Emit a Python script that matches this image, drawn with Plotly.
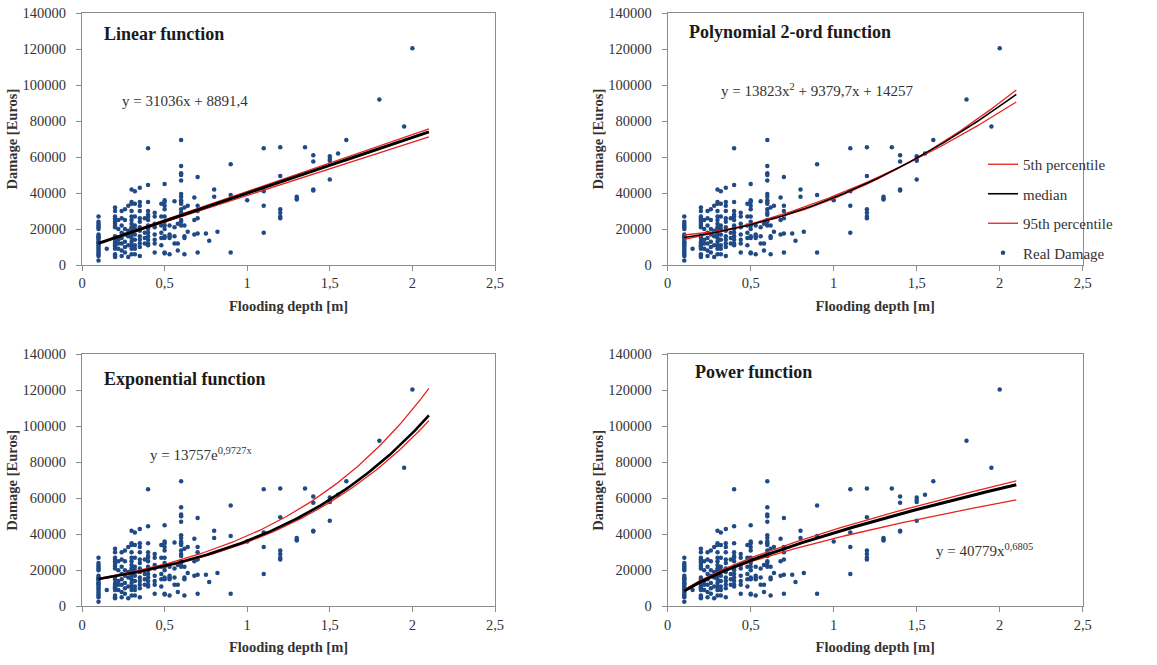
import plotly.graph_objects as go
import numpy as np

# ---------------- data ----------------
depth_levels = [0.10, 0.15, 0.20, 0.22, 0.24, 0.26, 0.28, 0.30, 0.32, 0.35, 0.38, 0.40,
                0.44, 0.48, 0.50, 0.53, 0.56, 0.58, 0.60, 0.62, 0.64, 0.68, 0.70, 0.75,
                0.77, 0.80, 0.82, 0.90, 1.00, 1.10, 1.20, 1.30, 1.35, 1.40, 1.50, 1.55,
                1.60, 1.80, 1.95, 2.00]
damage_groups = [
    [27000, 24000, 23000, 22000, 21000, 20000, 17000, 16000, 15500, 15000, 14000, 13000,
     12500, 12000, 11000, 10000, 9000, 8000, 7000, 6000, 5000, 2500],
    [9000],
    [32000, 30000, 27000, 26000, 25000, 24000, 23000, 22000, 21000, 16000, 15000, 13000,
     12000, 11000, 10500, 10000, 9000, 6000, 5000, 4500],
    [25000, 20000, 14000, 12000, 9000],
    [30000, 26000, 22000, 18000, 15000, 12000, 8000, 5000],
    [31000, 25000, 20000, 17000, 13000, 10000, 7000],
    [33000, 19000, 16000, 11000, 4500],
    [42000, 35000, 34000, 30000, 27000, 25000, 23000, 21000, 20000, 18000, 17000, 15000,
     13000, 11000, 9000, 6000],
    [41000, 34000, 27000, 22000, 20000, 17000, 14000, 11000, 9000, 6000],
    [43000, 35000, 33000, 30000, 26000, 24000, 21000, 19000, 16000, 14000, 12000, 10000, 5000],
    [26000, 18000, 15000, 12000],
    [65000, 44500, 35000, 30000, 28000, 27000, 25000, 22000, 21000, 20000, 18000, 16000,
     14000, 12000, 11000],
    [29000, 27000, 23000, 21000, 17000, 14000, 12000, 7000],
    [34000, 27000, 22000, 18000, 15000, 11000],
    [45000, 36000, 35000, 33000, 31000, 27000, 24000, 22000, 20000, 16000, 15000, 7000, 6500],
    [22000, 17000, 16000, 15000, 6000],
    [35500, 21000, 16000, 12000],
    [23000, 12000, 8000],
    [69500, 55000, 51000, 50000, 47000, 39500, 38000, 36000, 35000, 34000, 31000, 29000,
     28000, 25000, 24000, 22000],
    [32000, 22000, 16000, 15000, 6000],
    [33000, 18500],
    [37500, 25000, 17000],
    [49000, 33000, 30000, 26000, 17500, 7000],
    [17500],
    [13500],
    [42000, 38000],
    [18500],
    [56000, 39000, 7000],
    [36000],
    [65000, 41000, 33000, 18000],
    [65500, 49500, 31000, 29000, 27000, 26000],
    [38000, 37000, 36500],
    [65500],
    [61000, 57500, 42000, 41500],
    [60500, 59000, 58000, 47500],
    [62000],
    [69500],
    [92000],
    [77000],
    [120500],
]

# fitted curve coefficients (median from the equations; percentiles)
linear_median = (31036, 8891.4)
linear_p5 = (29600, 9100)
linear_p95 = (31600, 9300)

poly_median = (13823, 9379.7, 14257)
poly_p5 = (10452, 15205, 12675)
poly_p95 = (16256, 4562, 16081)

expo_median = (13757, 0.9727)
expo_p5 = (13526, 0.9675)
expo_p95 = (13985, 1.028)

power_median = (40779, 0.6805)
power_p5 = (37646, 0.6072)
power_p95 = (42522, 0.6648)

x_tick_vals = [0, 0.5, 1, 1.5, 2, 2.5]
x_tick_labels = ["0", "0,5", "1", "1,5", "2", "2,5"]
y_tick_vals = [0, 20000, 40000, 60000, 80000, 100000, 120000, 140000]

panel_titles = ["Linear function", "Polynomial 2-ord function",
                "Exponential function", "Power function"]
equations = ["y = 31036x + 8891,4",
             "y = 13823x<sup>2</sup> + 9379,7x + 14257",
             "y = 13757e<sup>0,9727x</sup>",
             "y = 40779x<sup>0,6805</sup>"]

# ---------------- build ----------------
depth = []
damage = []
for d, grp in zip(depth_levels, damage_groups):
    depth += [d] * len(grp)
    damage += grp

xc = np.linspace(0.1, 2.1, 120)

def lin(c): return c[0] * xc + c[1]
def poly(c): return c[0] * xc ** 2 + c[1] * xc + c[2]
def expo(c): return c[0] * np.exp(c[1] * xc)
def powf(c): return c[0] * xc ** c[1]

curves = [
    (lin(linear_p5), lin(linear_median), lin(linear_p95), 3),
    (poly(poly_p5), poly(poly_median), poly(poly_p95), 1.6),
    (expo(expo_p5), expo(expo_median), expo(expo_p95), 2.6),
    (powf(power_p5), powf(power_median), powf(power_p95), 3),
]

W, H = 1157, 665
xdom = [[82 / W, 495 / W], [667.7 / W, 1082.7 / W]]
ydom_top = [1 - 265 / H, 1 - 13.3 / H]
ydom_bot = [1 - 606.3 / H, 1 - 354.3 / H]
domains = [(xdom[0], ydom_top), (xdom[1], ydom_top), (xdom[0], ydom_bot), (xdom[1], ydom_bot)]

title_pos = [(0.12, 128300), (0.116, 129400), (0.12, 126300), (0.152, 130200)]
eq_pos = [(0.23, 91100), (0.31, 97600), (0.40, 84600), (1.604, 31300)]

RED = "#E8221E"
BLUE = "#1F4A86"
AXC = "#8C8C8C"
SERIF = "Liberation Serif"

fig = go.Figure()
layout = dict()
annotations = []
for i in range(4):
    xa = "x" if i == 0 else f"x{i+1}"
    ya = "y" if i == 0 else f"y{i+1}"
    leg = (i == 1)
    p5, med, p95, mw = curves[i]
    fig.add_trace(go.Scatter(x=depth, y=damage, mode="markers", xaxis=xa, yaxis=ya,
                             marker=dict(color=BLUE, size=4.5), name="Real Damage",
                             showlegend=leg, legendrank=4, legendgroup="d"))
    fig.add_trace(go.Scatter(x=xc, y=p5, mode="lines", xaxis=xa, yaxis=ya,
                             line=dict(color=RED, width=1.3), name="5th percentile",
                             showlegend=leg, legendrank=1, legendgroup="a"))
    fig.add_trace(go.Scatter(x=xc, y=p95, mode="lines", xaxis=xa, yaxis=ya,
                             line=dict(color=RED, width=1.3), name="95th percentile",
                             showlegend=leg, legendrank=3, legendgroup="c"))
    fig.add_trace(go.Scatter(x=xc, y=med, mode="lines", xaxis=xa, yaxis=ya,
                             line=dict(color="black", width=mw), name="median",
                             showlegend=leg, legendrank=2, legendgroup="b"))
    axn = "" if i == 0 else str(i + 1)
    layout["xaxis" + axn] = dict(
        domain=domains[i][0], anchor=ya, range=[0, 2.5], tickvals=x_tick_vals,
        ticktext=x_tick_labels, showgrid=False, zeroline=False, showline=True,
        linecolor=AXC, linewidth=1, mirror=True, ticks="outside", ticklen=5,
        tickcolor=AXC, tickfont=dict(family=SERIF, size=14.5, color="#333333"),
        automargin=False, ticklabeloverflow="allow",
        title=dict(text="<b>Flooding depth [m]</b>", standoff=10,
                   font=dict(family=SERIF, size=14.5, color="#333333")))
    layout["yaxis" + axn] = dict(
        domain=domains[i][1], anchor=xa, range=[0, 140000], tickvals=y_tick_vals,
        tickformat="d", showgrid=False, zeroline=False, showline=True,
        linecolor=AXC, linewidth=1, mirror=True, ticks="outside", ticklen=5,
        tickcolor=AXC, tickfont=dict(family=SERIF, size=14.5, color="#333333"),
        ticklabelstandoff=7, automargin=False, ticklabeloverflow="allow",
        title=dict(text="<b>Damage [Euros]</b>", standoff=1,
                   font=dict(family=SERIF, size=14.5, color="#333333")))
    annotations.append(dict(x=title_pos[i][0], y=title_pos[i][1], xref=xa, yref=ya,
                            text="<b>" + panel_titles[i] + "</b>", showarrow=False,
                            xanchor="left", yanchor="middle",
                            font=dict(family=SERIF, size=18, color="#1a1a1a")))
    annotations.append(dict(x=eq_pos[i][0], y=eq_pos[i][1], xref=xa, yref=ya,
                            text=equations[i], showarrow=False,
                            xanchor="left", yanchor="middle",
                            font=dict(family=SERIF, size=15, color="#333333")))

fig.update_layout(**layout)
fig.update_layout(
    width=W, height=H, margin=dict(l=0, r=0, t=0, b=0),
    plot_bgcolor="white", paper_bgcolor="white",
    annotations=annotations,
    legend=dict(x=983 / W, y=1 - 148 / H, xanchor="left", yanchor="top",
                font=dict(family=SERIF, size=15, color="#333333"),
                bgcolor="rgba(0,0,0,0)", tracegroupgap=7, itemwidth=30),
)
# the page body has a default 8px margin; remove it so the figure starts at the window corner
fig.write_html("out.html", config={"displayModeBar": False},
               post_script="document.body.style.margin='0';")
